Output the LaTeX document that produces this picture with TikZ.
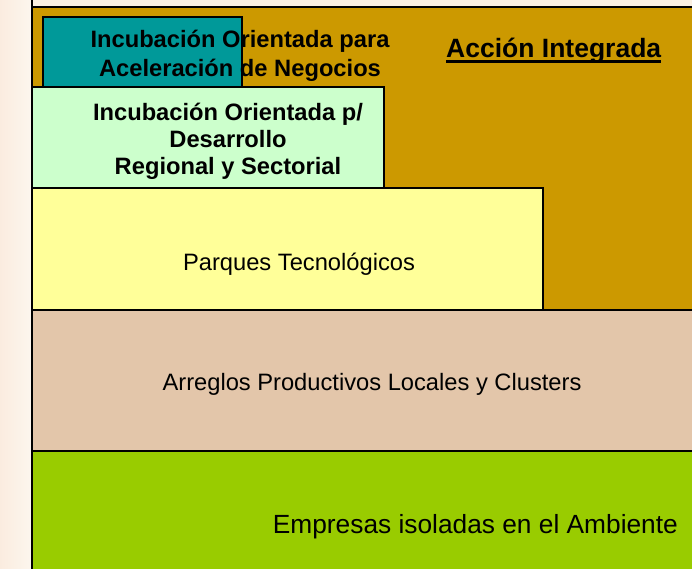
\documentclass[tikz,border=0pt]{standalone}
\usepackage{fontspec}
\setmainfont{Liberation Sans}
\definecolor{fondo}{RGB}{250,240,226}
\definecolor{oro}{RGB}{204,153,0}
\definecolor{turquesa}{RGB}{0,153,153}
\definecolor{verdeclaro}{RGB}{204,255,204}
\definecolor{amarillo}{RGB}{255,255,153}
\definecolor{arena}{RGB}{227,198,170}
\definecolor{lima}{RGB}{153,204,0}
\tikzset{
  caja/.style={draw=black, line width=1.2pt},
  rotulo/.style={inner sep=0pt, font=\fontsize{23.7}{27}\selectfont},
  negrita/.style={inner sep=0pt, align=center, font=\bfseries\fontsize{23.7}{27}\selectfont}
}
\begin{document}
\begin{tikzpicture}[x=1pt, y=-1pt]
    \useasboundingbox (0, 0) rectangle (692, 568);
    \clip (0, 0) rectangle (692, 568);
    \fill[fondo] (0, 0) rectangle (692, 568);
    \shade[left color=fondo!92!pink, right color=fondo!60!white] (0, 0) rectangle (31, 568);
    % capas, de arriba hacia abajo
    \draw[caja, fill=oro] (32, 7) rectangle (700, 310);
    \draw[caja, fill=turquesa] (43, 17) rectangle (242, 87);
    \node[negrita, anchor=base, font=\bfseries\fontsize{23.7}{29}\selectfont] (acel) at (240, 76)
        {Incubación Orientada para\\Aceleración de Negocios};
    \node[negrita, anchor=base west, font=\bfseries\fontsize{26.5}{30}\selectfont] (integ) at (446, 57.7) {Acción Integrada};
    \draw[line width=2.8pt] ([yshift=-4pt]integ.base west) -- ([yshift=-4pt]integ.base east);
    \draw[caja, fill=verdeclaro] (32, 87) rectangle (384, 188);
    \node[negrita, anchor=base] (regional) at (228, 174)
        {Incubación Orientada p/\\Desarrollo\\Regional y Sectorial};
    \draw[caja, fill=amarillo] (32, 188) rectangle (543, 310);
    \node[rotulo, anchor=base] (parques) at (299, 270.7) {Parques Tecnológicos};
    \draw[caja, fill=arena] (32, 310) rectangle (700, 451);
    \node[rotulo, anchor=base] (arreglos) at (372, 390) {Arreglos Productivos Locales y Clusters};
    \draw[caja, fill=lima] (32, 451) rectangle (700, 580);
    \node[rotulo, anchor=base west, font=\fontsize{26.3}{30}\selectfont] (empresas) at (272.7, 533) {Empresas isoladas en el Ambiente};
    \draw[line width=2pt] (31.5, 0) -- (31.5, 552);
\end{tikzpicture}
\end{document}
